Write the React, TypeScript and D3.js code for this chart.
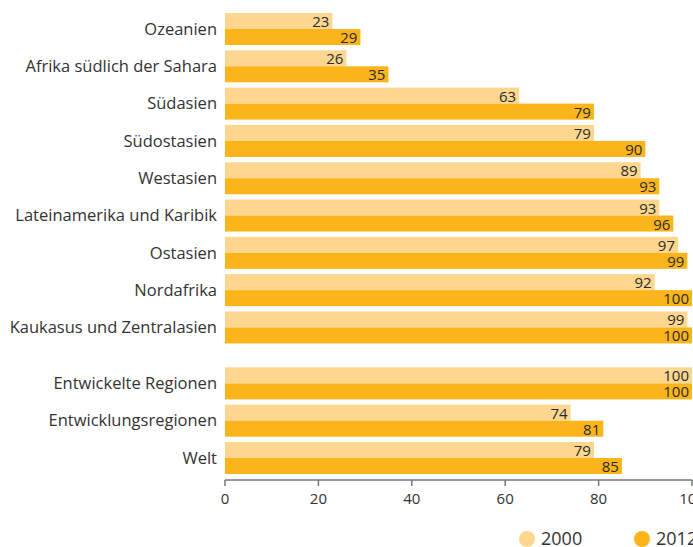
import * as d3 from "d3";

const regions = [
  "Ozeanien",
  "Afrika südlich der Sahara",
  "Südasien",
  "Südostasien",
  "Westasien",
  "Lateinamerika und Karibik",
  "Ostasien",
  "Nordafrika",
  "Kaukasus und Zentralasien",
  "Entwickelte Regionen",
  "Entwicklungsregionen",
  "Welt",
];
const values2000 = [23, 26, 63, 79, 89, 93, 97, 92, 99, 100, 74, 79];
const values2012 = [29, 35, 79, 90, 93, 96, 99, 100, 100, 100, 81, 85];
const xTicks = [0, 20, 40, 60, 80, 100];
const seriesNames = ["2000", "2012"];

const W = 693;
const H = 547;
const light = "#FDD68F";
const dark = "#FBB41A";
const font = "'Open Sans', 'Noto Sans', sans-serif";

export default function App() {
  const x = d3.scaleLinear().domain([0, 100]).range([225, 692]);
  // regions 0-8, then a half-row gap before the aggregates
  const rowPos = (i: number) => (i < 9 ? i : i + 0.5);
  const y = d3.scaleLinear().domain([0, 11.5]).range([13, 442]);
  const barH = 16;
  const axisY = 480;

  return (
    <svg
      width={W}
      height={H}
      style={{ position: "absolute", left: 0, top: 0, background: "#fff" }}
      fontFamily={font}
    >
      {regions.map((r, i) => {
        const y0 = y(rowPos(i));
        return (
          <g key={r}>
            <rect x={x(0)} y={y0} width={x(values2000[i]) - x(0)} height={barH} fill={light} />
            <rect x={x(0)} y={y0 + barH} width={x(values2012[i]) - x(0)} height={barH} fill={dark} />
            <text x={x(values2000[i]) - 3} y={y0 + barH - 2} textAnchor="end" fontSize={15} fill="#2b2b2b">
              {values2000[i]}
            </text>
            <text x={x(values2012[i]) - 3} y={y0 + 2 * barH - 2} textAnchor="end" fontSize={15} fill="#2b2b2b">
              {values2012[i]}
            </text>
            <text x={217} y={y0 + barH} dy="0.35em" textAnchor="end" fontSize={16.5} fill="#333">
              {r}
            </text>
          </g>
        );
      })}
      <line x1={x(0)} x2={x(100)} y1={axisY} y2={axisY} stroke="#777" strokeWidth={1.5} />
      {xTicks.map((t) => (
        <g key={t}>
          <line x1={x(t)} x2={x(t)} y1={axisY} y2={axisY + 6} stroke="#777" strokeWidth={1.5} />
          <text x={x(t)} y={axisY + 24} textAnchor="middle" fontSize={15} fill="#333">
            {t}
          </text>
        </g>
      ))}
      {seriesNames.map((s, i) => {
        const cx = [527, 642][i];
        return (
          <g key={s}>
            <circle cx={cx} cy={539} r={8} fill={i === 0 ? light : dark} />
            <text x={cx + 14} y={539} dy="0.35em" fontSize={18} fill="#333">
              {s}
            </text>
          </g>
        );
      })}
    </svg>
  );
}
